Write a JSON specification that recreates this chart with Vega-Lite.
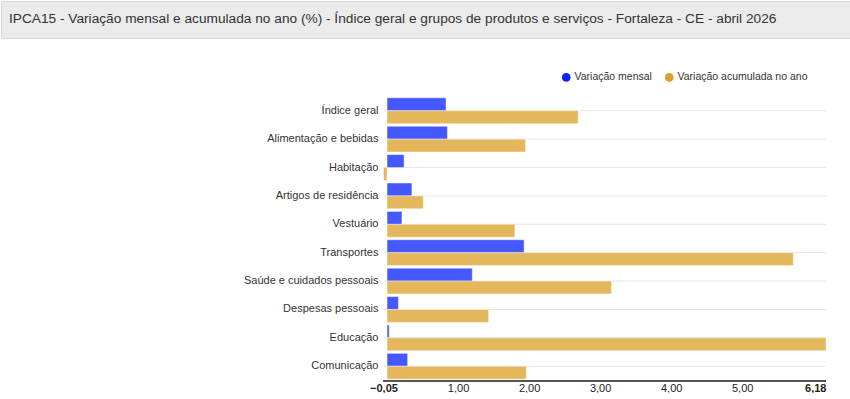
{
  "$schema": "https://vega.github.io/schema/vega-lite/v6.json",
  "padding": 0,
  "background": "white",
  "spacing": 33,
  "config": {"view": {"stroke": null}, "font": "Liberation Sans"},
  "resolve": {"legend": {"color": "independent"}},
  "datasets": {
    "ipca": [
      {"grupo": "Índice geral", "serie": "Variação mensal", "valor": 0.83},
      {"grupo": "Índice geral", "serie": "Variação acumulada no ano", "valor": 2.69},
      {"grupo": "Alimentação e bebidas", "serie": "Variação mensal", "valor": 0.85},
      {"grupo": "Alimentação e bebidas", "serie": "Variação acumulada no ano", "valor": 1.95},
      {"grupo": "Habitação", "serie": "Variação mensal", "valor": 0.24},
      {"grupo": "Habitação", "serie": "Variação acumulada no ano", "valor": -0.05},
      {"grupo": "Artigos de residência", "serie": "Variação mensal", "valor": 0.35},
      {"grupo": "Artigos de residência", "serie": "Variação acumulada no ano", "valor": 0.51},
      {"grupo": "Vestuário", "serie": "Variação mensal", "valor": 0.21},
      {"grupo": "Vestuário", "serie": "Variação acumulada no ano", "valor": 1.80},
      {"grupo": "Transportes", "serie": "Variação mensal", "valor": 1.93},
      {"grupo": "Transportes", "serie": "Variação acumulada no ano", "valor": 5.72},
      {"grupo": "Saúde e cuidados pessoais", "serie": "Variação mensal", "valor": 1.20},
      {"grupo": "Saúde e cuidados pessoais", "serie": "Variação acumulada no ano", "valor": 3.16},
      {"grupo": "Despesas pessoais", "serie": "Variação mensal", "valor": 0.16},
      {"grupo": "Despesas pessoais", "serie": "Variação acumulada no ano", "valor": 1.43},
      {"grupo": "Educação", "serie": "Variação mensal", "valor": 0.03},
      {"grupo": "Educação", "serie": "Variação acumulada no ano", "valor": 6.18},
      {"grupo": "Comunicação", "serie": "Variação mensal", "valor": 0.29},
      {"grupo": "Comunicação", "serie": "Variação acumulada no ano", "valor": 1.96}
    ]
  },
  "vconcat": [
    {
      "width": 850,
      "height": 37,
      "view": {"fill": "#ebebeb", "stroke": "#d8d8d8"},
      "data": {"values": [{"t": "IPCA15 - Variação mensal e acumulada no ano (%) - Índice geral e grupos de produtos e serviços - Fortaleza - CE - abril 2026"}]},
      "mark": {"type": "text", "align": "left", "baseline": "middle", "fontSize": 13.7, "font": "Liberation Sans", "color": "#333333"},
      "encoding": {"text": {"field": "t"}, "x": {"value": 8}, "y": {"value": 18}}
    },
    {
      "width": 825,
      "height": 285,
      "data": {"name": "ipca"},
      "encoding": {
        "y": {
          "field": "grupo", "type": "nominal",
          "sort": ["Índice geral", "Alimentação e bebidas", "Habitação", "Artigos de residência", "Vestuário", "Transportes", "Saúde e cuidados pessoais", "Despesas pessoais", "Educação", "Comunicação"],
          "scale": {"paddingInner": 0.09, "paddingOuter": 0.065},
          "axis": null
        }
      },
      "layer": [
        {
          "transform": [{"filter": "datum.serie == 'Variação mensal'"}],
          "mark": {"type": "rule", "color": "#e6e6e6", "strokeWidth": 1},
          "encoding": {"x": {"datum": -0.05}, "x2": {"datum": 6.18}}
        },
        {
          "mark": {"type": "bar", "fillOpacity": 0.76, "stroke": "white", "strokeOpacity": 0.45, "strokeWidth": 1},
          "encoding": {
            "yOffset": {"field": "serie", "type": "nominal", "sort": ["Variação mensal", "Variação acumulada no ano"], "scale": {"paddingInner": 0, "paddingOuter": 0}},
            "x": {
              "field": "valor", "type": "quantitative",
              "scale": {"domain": [-5.435, 6.18], "nice": false, "zero": false},
              "axis": {
                "title": null,
                "domain": false,
                "values": [-0.05, 1, 2, 3, 4, 5, 6.18],
                "labelExpr": "replace(format(datum.value, '.2f'), '.', ',')",
                "labelFontWeight": {"condition": {"test": "datum.value < 0 || datum.value > 6", "value": "bold"}, "value": "normal"},
                "gridColor": {"condition": {"test": "datum.value < 0 || datum.value > 6", "value": "transparent"}, "value": "#e3e3e3"},
                "ticks": false,
                "labelFontSize": 11,
                "labelColor": "#222222",
                "labelPadding": 1,
                "labelOverlap": false
              }
            },
            "x2": {"datum": 0},
            "color": {
              "field": "serie", "type": "nominal",
              "scale": {"domain": ["Variação mensal", "Variação acumulada no ano"], "range": ["#0a22ff", "#dba12a"]},
              "legend": {
                "title": null, "orient": "none", "direction": "horizontal", "legendX": 560, "legendY": -24,
                "symbolType": "circle", "symbolSize": 75, "symbolOpacity": 1, "symbolStrokeWidth": 0,
                "labelFontSize": 10.5, "labelColor": "#333333", "columnPadding": 12, "padding": 0, "labelOffset": 3
              }
            }
          }
        },
        {
          "transform": [{"filter": "datum.serie == 'Variação mensal'"}],
          "mark": {"type": "text", "align": "right", "baseline": "middle", "dx": -5, "fontSize": 11, "color": "#333333"},
          "encoding": {"x": {"datum": -0.05}, "text": {"field": "grupo"}}
        },
        {
          "transform": [{"filter": "datum.serie == 'Variação mensal'"}],
          "mark": {"type": "rule", "color": "#555555", "strokeWidth": 1},
          "encoding": {"x": {"datum": -0.05}, "x2": {"datum": 6.18}, "y": {"value": "height"}}
        }
      ]
    }
  ]
}
